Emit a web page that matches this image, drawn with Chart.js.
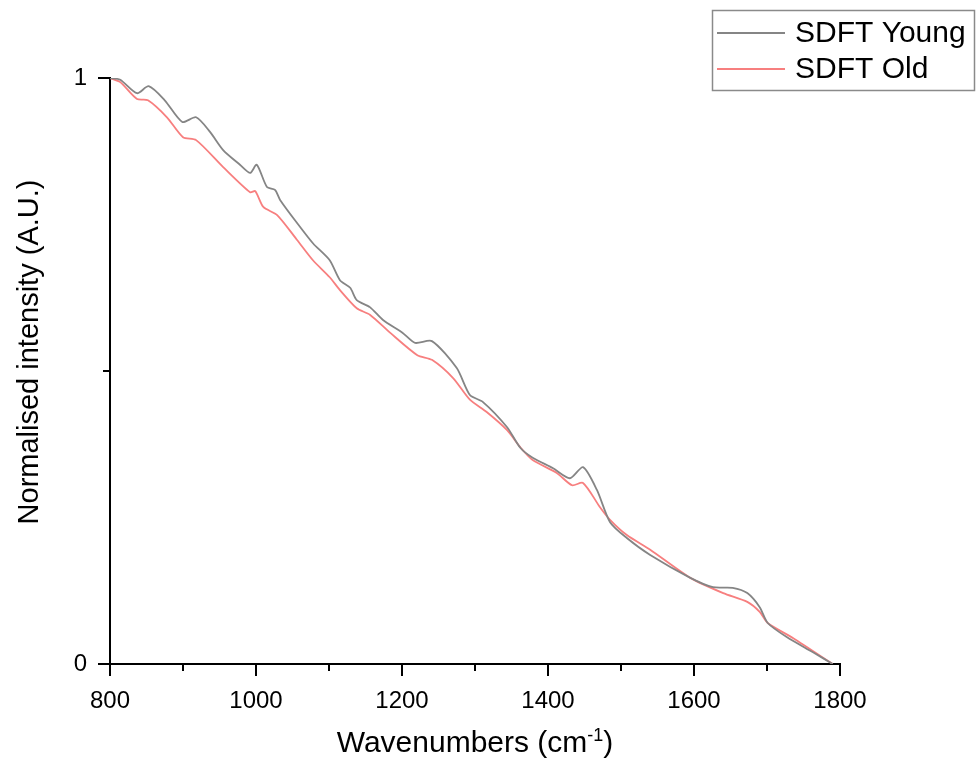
<!DOCTYPE html>
<html>
<head>
<meta charset="utf-8">
<script src="https://cdn.jsdelivr.net/npm/chart.js@4.4.1/dist/chart.umd.min.js"></script>
<style>
  body { margin: 0; background: #fff; }
  #wrap { width: 979px; height: 764px; }
</style>
</head>
<body>
<div id="wrap"><canvas id="spectra" width="979" height="764"></canvas></div>
<script>
// values
const youngX = [800, 814, 837, 853, 875, 899, 918, 937, 955, 978, 992, 1001, 1015, 1026, 1033, 1056, 1078, 1101, 1115, 1129, 1138, 1156, 1174, 1201, 1218, 1241, 1275, 1293, 1311, 1344, 1362, 1379, 1407, 1430, 1448, 1467, 1485, 1508, 1540, 1595, 1626, 1653, 1673, 1690, 1701, 1727, 1763, 1790];
const youngY = [1.000, 0.997, 0.974, 0.986, 0.962, 0.925, 0.933, 0.908, 0.877, 0.852, 0.838, 0.852, 0.814, 0.809, 0.792, 0.753, 0.718, 0.689, 0.655, 0.642, 0.621, 0.609, 0.587, 0.565, 0.548, 0.551, 0.505, 0.459, 0.447, 0.404, 0.369, 0.352, 0.334, 0.317, 0.336, 0.297, 0.242, 0.215, 0.186, 0.147, 0.131, 0.130, 0.121, 0.097, 0.070, 0.046, 0.020, 0.000];

const oldX = [800, 814, 837, 852, 878, 900, 918, 955, 992, 999, 1010, 1029, 1056, 1078, 1101, 1115, 1138, 1156, 1184, 1221, 1241, 1270, 1293, 1316, 1344, 1362, 1379, 1412, 1433, 1448, 1471, 1485, 1508, 1540, 1595, 1640, 1673, 1690, 1701, 1736, 1790];
const oldY = [1.000, 0.993, 0.964, 0.962, 0.933, 0.899, 0.894, 0.848, 0.805, 0.807, 0.780, 0.766, 0.724, 0.689, 0.660, 0.638, 0.607, 0.596, 0.565, 0.527, 0.519, 0.488, 0.451, 0.430, 0.399, 0.370, 0.348, 0.326, 0.305, 0.309, 0.268, 0.246, 0.220, 0.195, 0.147, 0.121, 0.106, 0.089, 0.070, 0.044, 0.000];

const seriesNames = ['SDFT Young', 'SDFT Old'];
const seriesColors = ['#858585', '#f77f7f'];

const xTicks = [800, 900, 1000, 1100, 1200, 1300, 1400, 1500, 1600, 1700, 1800];
const xTickLabels = ['800', '', '1000', '', '1200', '', '1400', '', '1600', '', '1800'];
const yTicks = [0, 0.5, 1];
const yTickLabels = ['0', '', '1'];

const FONT = 'Liberation Sans, Arial, sans-serif';

const toPoints = (xs, ys) => xs.map((x, i) => ({ x: x, y: ys[i] }));

// outward tick marks, long for labelled ticks, short for the rest
const tickMarks = {
    id: 'tickMarks',
    afterDraw(chart) {
        const ctx = chart.ctx;
        const xs = chart.scales.x, ys = chart.scales.y;
        ctx.save();
        ctx.strokeStyle = '#000';
        ctx.lineWidth = 2;
        xTicks.forEach((v, i) => {
            const px = Math.round(xs.getPixelForValue(v));
            const len = xTickLabels[i] ? 12 : 7;
            ctx.beginPath();
            ctx.moveTo(px, xs.top);
            ctx.lineTo(px, xs.top + len);
            ctx.stroke();
        });
        yTicks.forEach((v, i) => {
            const py = Math.round(ys.getPixelForValue(v));
            const len = yTickLabels[i] ? 12 : 7;
            ctx.beginPath();
            ctx.moveTo(ys.right, py);
            ctx.lineTo(ys.right - len, py);
            ctx.stroke();
        });
        ctx.restore();
    }
};

// axis titles, x one with a superscript
const axisTitles = {
    id: 'axisTitles',
    afterDraw(chart) {
        const ctx = chart.ctx;
        const area = chart.chartArea;
        const cx = (area.left + area.right) / 2;
        const base = 752;
        const main = 'Wavenumbers (cm', sup = '-1', tail = ')';
        ctx.save();
        ctx.fillStyle = '#000';
        ctx.textBaseline = 'alphabetic';
        ctx.textAlign = 'left';
        ctx.font = '30px ' + FONT;
        const w1 = ctx.measureText(main).width;
        const w3 = ctx.measureText(tail).width;
        ctx.font = '18px ' + FONT;
        const w2 = ctx.measureText(sup).width;
        let x = cx - (w1 + w2 + w3) / 2;
        ctx.font = '30px ' + FONT;
        ctx.fillText(main, x, base);
        x += w1;
        ctx.font = '18px ' + FONT;
        ctx.fillText(sup, x, base - 11);
        x += w2;
        ctx.font = '30px ' + FONT;
        ctx.fillText(tail, x, base);

        ctx.translate(38, 352);
        ctx.rotate(-Math.PI / 2);
        ctx.textAlign = 'center';
        ctx.font = '29px ' + FONT;
        ctx.fillText('Normalised intensity (A.U.)', 0, 0);
        ctx.restore();
    }
};

// boxed legend in the top right corner
const boxLegend = {
    id: 'boxLegend',
    afterDraw(chart) {
        const ctx = chart.ctx;
        ctx.save();
        ctx.strokeStyle = '#8a8a8a';
        ctx.lineWidth = 1.5;
        ctx.strokeRect(712.5, 10.5, 262, 80);
        ctx.font = '30px ' + FONT;
        ctx.textBaseline = 'alphabetic';
        ctx.fillStyle = '#000';
        chart.data.datasets.forEach((ds, i) => {
            const y = 33 + i * 36;
            ctx.strokeStyle = ds.borderColor;
            ctx.lineWidth = 2;
            ctx.beginPath();
            ctx.moveTo(717, y);
            ctx.lineTo(785, y);
            ctx.stroke();
            ctx.fillText(ds.label, 795, y + 9);
        });
        ctx.restore();
    }
};

new Chart(document.getElementById('spectra'), {
    type: 'line',
    data: {
        datasets: [
            { label: seriesNames[0], data: toPoints(youngX, youngY), borderColor: seriesColors[0] },
            { label: seriesNames[1], data: toPoints(oldX, oldY), borderColor: seriesColors[1] }
        ]
    },
    options: {
        responsive: false,
        animation: false,
        parsing: false,
        layout: { padding: { left: 0, top: 78, right: 139, bottom: 0 } },
        elements: {
            point: { radius: 0 },
            line: { borderWidth: 1.8, tension: 0.25, fill: false }
        },
        plugins: {
            legend: { display: false },
            tooltip: { enabled: false }
        },
        scales: {
            x: {
                type: 'linear',
                min: 800,
                max: 1800,
                afterFit: (scale) => { scale.height = 100; },
                grid: { display: false },
                border: { display: true, color: '#000', width: 2 },
                ticks: {
                    stepSize: 100,
                    autoSkip: false,
                    maxRotation: 0,
                    padding: 15,
                    color: '#000',
                    font: { family: FONT, size: 24 },
                    callback: (v) => xTickLabels[xTicks.indexOf(v)] || ''
                }
            },
            y: {
                min: 0,
                max: 1,
                afterFit: (scale) => { scale.width = 110; },
                grid: { display: false },
                border: { display: true, color: '#000', width: 2 },
                ticks: {
                    stepSize: 0.5,
                    padding: 15,
                    color: '#000',
                    font: { family: FONT, size: 24 },
                    callback: (v) => yTickLabels[yTicks.indexOf(v)] || ''
                }
            }
        }
    },
    plugins: [tickMarks, axisTitles, boxLegend]
});
</script>
</body>
</html>
